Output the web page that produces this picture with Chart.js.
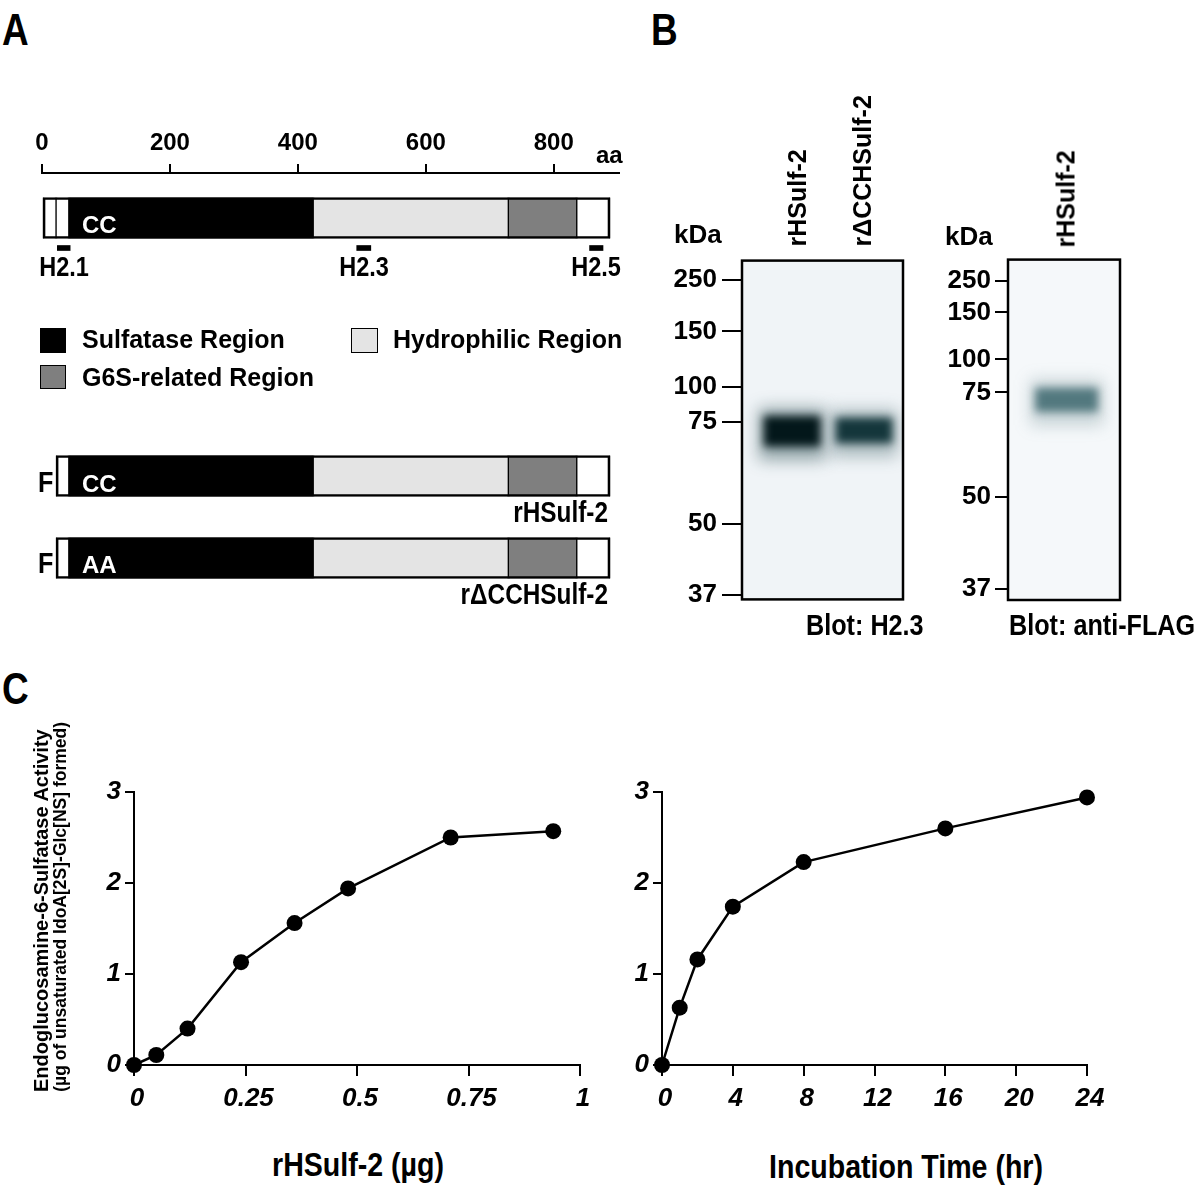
<!DOCTYPE html>
<html>
<head>
<meta charset="utf-8">
<title>HSulf-2 domains, immunoblots and activity</title>
<script src="https://cdn.jsdelivr.net/npm/chart.js@4.4.1/dist/chart.umd.min.js"></script>
<style>
  body { margin: 0; background: #fff; }
  #fig { position: relative; width: 1200px; height: 1192px; overflow: hidden; font-family: 'Liberation Sans', Arial, sans-serif; }
  #fig canvas { position: absolute; }
  .t { position: absolute; white-space: nowrap; line-height: 1; font-weight: bold; color: #000; }
  .sw { position: absolute; box-sizing: border-box; border: 1px solid #000; }
</style>
</head>
<body>
<div id="fig">
  <canvas id="domainChart" width="640" height="190" style="left:0;top:110px"></canvas>
  <canvas id="constructChart" width="640" height="180" style="left:0;top:440px"></canvas>
  <canvas id="blotH23" width="290" height="380" style="left:640px;top:240px"></canvas>
  <canvas id="blotFlag" width="210" height="380" style="left:930px;top:240px"></canvas>
  <canvas id="doseChart" width="580" height="380" style="left:40px;top:760px"></canvas>
  <canvas id="timeChart" width="540" height="380" style="left:600px;top:760px"></canvas>
</div>
<script>
// A: HSulf-2 domain map, amino acid positions
const aaTicks = [0, 200, 400, 600, 800];
const domainStart = [0, 22, 42, 424, 729, 836];
const domainEnd = [22, 42, 424, 729, 836, 888];
const domainKind = ['end', 'end', 'sulfatase', 'hydrophilic', 'g6s', 'end'];
const epitopeNames = ['H2.1', 'H2.3', 'H2.5'];
const epitopeStart = [24, 492, 856];
const epitopeEnd = [44, 514, 877];
const constructNames = ['rHSulf-2', 'r\u0394CCHSulf-2'];
const constructMotif = ['CC', 'AA'];
const constructStart = [22, 42, 424, 729, 836];
const constructEnd = [42, 424, 729, 836, 888];
const constructKind = ['end', 'sulfatase', 'hydrophilic', 'g6s', 'end'];

// B: immunoblots, relative migration (0 = top of blot, 1 = bottom)
const markerKDa = [250, 150, 100, 75, 50, 37];
const blot1Lanes = ['rHSulf-2', 'r\u0394CCHSulf-2'];
const blot1MarkerRf = [0.058, 0.209, 0.374, 0.475, 0.777, 0.986];
const blot1BandRf = [[0.460, 0.548], [0.465, 0.538]];
const blot2Lanes = ['rHSulf-2'];
const blot2MarkerRf = [0.062, 0.155, 0.293, 0.390, 0.698, 0.968];
const blot2BandRf = [[0.378, 0.446]];

// C: endoglucosamine-6-sulfatase activity
const activityTicks = [0, 1, 2, 3];
const doseTicks = [0, 0.25, 0.5, 0.75, 1];
const doseUg = [0, 0.05, 0.12, 0.24, 0.36, 0.48, 0.71, 0.94];
const doseActivity = [0, 0.11, 0.40, 1.13, 1.56, 1.94, 2.50, 2.57];
const timeTicks = [0, 4, 8, 12, 16, 20, 24];
const timeHr = [0, 1, 2, 4, 8, 16, 24];
const timeActivity = [0, 0.63, 1.16, 1.74, 2.23, 2.60, 2.94];

Chart.defaults.font.family = "'Liberation Sans', Arial, sans-serif";
Chart.defaults.color = '#000';
Chart.defaults.animation = false;
Chart.defaults.responsive = false;
Chart.defaults.plugins.legend.display = false;
Chart.defaults.plugins.tooltip.enabled = false;

const kindColor = { end: '#ffffff', sulfatase: '#000000', hydrophilic: '#e4e4e4', g6s: '#7f7f7f' };
const NARROW = 0.84;
const fig = document.getElementById('fig');

function segments(starts, ends, kinds, row) {
  return starts.map((s, i) => ({ x: [s, ends[i]], y: row, kind: kinds[i] }));
}

const segmentStyle = {
  backgroundColor: c => (c.raw ? kindColor[c.raw.kind] : '#000'),
  borderColor: '#000',
  borderWidth: { left: 1, right: 1, top: 0, bottom: 0 },
  borderSkipped: false,
  barThickness: 41,
  stack: 'row'
};
const outlineStyle = {
  backgroundColor: 'rgba(0,0,0,0)',
  borderColor: '#000',
  borderWidth: 2,
  borderSkipped: false,
  barThickness: 41,
  stack: 'row'
};

const domainChart = new Chart(document.getElementById('domainChart'), {
  type: 'bar',
  data: {
    datasets: [
      { ...outlineStyle, data: [{ x: [domainStart[0], domainEnd[domainEnd.length - 1]], y: 0 }] },
      { ...segmentStyle, data: segments(domainStart, domainEnd, domainKind, 0) },
      { data: epitopeStart.map((s, i) => ({ x: [s, epitopeEnd[i]], y: 1 })), backgroundColor: '#000', barThickness: 5, stack: 'row' }
    ]
  },
  options: {
    indexAxis: 'y',
    layout: { padding: { left: 42, right: 21, top: 0, bottom: 0 } },
    scales: {
      x: {
        type: 'linear', position: 'top', min: 0, max: 902, stacked: false,
        afterBuildTicks: a => { a.ticks = aaTicks.map(v => ({ value: v })); },
        afterFit: a => { a.height = 63; },
        border: { color: '#000', width: 2 },
        grid: { drawOnChartArea: false, color: '#000', lineWidth: 2, tickLength: 9 },
        ticks: { font: { size: 24, weight: 'bold' }, padding: 6, maxRotation: 0, autoSkip: false }
      },
      y: { type: 'linear', display: false, reverse: true, min: -1.5, max: 2.733, offset: false }
    }
  }
});

const constructChart = new Chart(document.getElementById('constructChart'), {
  type: 'bar',
  data: {
    datasets: [
      { ...outlineStyle, data: constructNames.map((_, r) => ({ x: [constructStart[0], constructEnd[constructEnd.length - 1]], y: r })) },
      { ...segmentStyle, data: constructNames.flatMap((_, r) => segments(constructStart, constructEnd, constructKind, r)) }
    ]
  },
  options: {
    indexAxis: 'y',
    layout: { padding: { left: 42, right: 21, top: 0, bottom: 0 } },
    scales: {
      x: { type: 'linear', display: false, min: 0, max: 902, stacked: false },
      y: { type: 'linear', display: false, reverse: true, min: -0.439, max: 1.756, offset: false }
    }
  }
});

// blur the bands so they look like chemiluminescence
const bandBlur = {
  id: 'bandBlur',
  beforeDatasetDraw(chart, args) {
    const r = chart.data.datasets[args.index].blur;
    if (r) { chart.ctx.save(); chart.ctx.filter = 'blur(' + r + 'px)'; }
  },
  afterDatasetDraw(chart, args) {
    if (chart.data.datasets[args.index].blur) chart.ctx.restore();
  }
};

const blotBox = {
  id: 'blotBox',
  beforeDatasetsDraw(chart, args, opts) {
    const { ctx, chartArea: a } = chart;
    ctx.save();
    ctx.fillStyle = opts.fill;
    ctx.fillRect(a.left, a.top, a.width, a.height);
    ctx.restore();
  },
  afterDatasetsDraw(chart) {
    const { ctx, chartArea: a } = chart;
    ctx.save();
    ctx.strokeStyle = '#000';
    ctx.lineWidth = 2.5;
    ctx.strokeRect(a.left, a.top, a.width, a.height);
    ctx.restore();
  }
};

function blotChart(id, markerRf, bandRf, o) {
  return new Chart(document.getElementById(id), {
    type: 'bar',
    data: {
      datasets: [
        { data: bandRf.map((b, i) => ({ x: i + 1, y: b })), backgroundColor: o.core, barThickness: o.width, blur: 4, stack: 'lane' },
        { data: bandRf.map((b, i) => ({ x: i + 1, y: [b[0] - 0.024, b[1] + 0.04] })), backgroundColor: o.halo, barThickness: o.width + 10, blur: 8, stack: 'lane' }
      ]
    },
    options: {
      layout: { padding: o.pad },
      scales: {
        x: { type: 'linear', display: false, min: o.xMin, max: o.xMax, offset: false },
        y: {
          type: 'linear', reverse: true, min: 0, max: 1, stacked: false,
          afterBuildTicks: a => { a.ticks = markerRf.map(v => ({ value: v })); },
          afterFit: a => { a.width = o.axisWidth; },
          border: { display: false },
          grid: { drawOnChartArea: false, color: '#000', lineWidth: 2, tickLength: o.tick },
          ticks: { callback: (v, i) => markerKDa[i], autoSkip: false, padding: o.gap, font: { size: 26, weight: 'bold' } }
        }
      },
      plugins: { blotBox: { fill: o.fill } }
    },
    plugins: [bandBlur, blotBox]
  });
}

blotChart('blotH23', blot1MarkerRf, blot1BandRf, {
  pad: { left: 0, top: 18, right: 27, bottom: 17 }, axisWidth: 102, tick: 20, gap: 5,
  xMin: 0.305, xMax: 2.54, width: 56, fill: '#f0f4f7',
  core: ['#03171a', '#14363b'], halo: ['rgba(10,50,56,0.4)', 'rgba(25,66,72,0.32)']
});
blotChart('blotFlag', blot2MarkerRf, blot2BandRf, {
  pad: { left: 0, top: 19, right: 20, bottom: 20 }, axisWidth: 78, tick: 13, gap: 4,
  xMin: 0.45, xMax: 1.5, width: 62, fill: '#f5f8fa',
  core: ['#52787e'], halo: ['rgba(80,115,122,0.28)']
});

const tickFont = { size: 26, weight: 'bold', style: 'italic' };

function activityChart(id, xs, ys, xTicks, o) {
  return new Chart(document.getElementById(id), {
    type: 'line',
    data: {
      datasets: [{
        data: xs.map((x, i) => ({ x, y: ys[i] })),
        borderColor: '#000', borderWidth: 2.5,
        pointRadius: 8, pointBackgroundColor: '#000', pointBorderWidth: 0,
        tension: 0, clip: false
      }]
    },
    options: {
      layout: { padding: { top: 32, right: o.padRight, bottom: 0, left: 0 } },
      scales: {
        x: {
          type: 'linear', min: xTicks[0], max: xTicks[xTicks.length - 1],
          afterBuildTicks: a => { a.ticks = xTicks.map(v => ({ value: v })); },
          afterFit: a => { a.height = 75; },
          border: { color: '#000', width: 2 },
          grid: { drawOnChartArea: false, color: '#000', lineWidth: 2, tickLength: 11 },
          ticks: { callback: v => String(v), autoSkip: false, maxRotation: 0, padding: 7, labelOffset: 3, font: tickFont }
        },
        y: {
          type: 'linear', min: 0, max: 3,
          afterBuildTicks: a => { a.ticks = activityTicks.map(v => ({ value: v })); },
          afterFit: a => { a.width = o.axisWidth; },
          border: { color: '#000', width: 2 },
          grid: { drawOnChartArea: false, color: '#000', lineWidth: 2, tickLength: 9 },
          ticks: { callback: v => String(v), autoSkip: false, padding: 4, font: tickFont }
        }
      }
    }
  });
}

activityChart('doseChart', doseUg, doseActivity, doseTicks, { axisWidth: 94, padRight: 40 });
activityChart('timeChart', timeHr, timeActivity, timeTicks, { axisWidth: 62, padRight: 53 });

// ---- text ----
function makeText(txt, o) {
  const d = document.createElement('div');
  d.className = 't';
  d.textContent = txt;
  d.style.fontSize = o.size + 'px';
  if (o.color) d.style.color = o.color;
  fig.appendChild(d);
  return d;
}

function addText(txt, x, base, o) {
  const d = makeText(txt, o);
  const align = o.align || 'left';
  const shift = align === 'center' ? '-50%' : align === 'right' ? '-100%' : '0';
  d.style.left = x + 'px';
  d.style.top = (base - 0.8465 * o.size) + 'px';
  d.style.transformOrigin = align + ' center';
  d.style.transform = 'translateX(' + shift + ') scaleX(' + (o.narrow ? NARROW : 1) + ')';
}

// rotated text reading bottom to top, starting at (x, startY)
function addUpText(txt, x, startY, o) {
  const d = makeText(txt, o);
  d.style.left = x + 'px';
  d.style.top = (startY - o.size / 2) + 'px';
  d.style.transformOrigin = '0 50%';
  d.style.transform = 'rotate(-90deg) scaleX(' + (o.narrow ? NARROW : 1) + ')';
}

function addSwatch(x, y, w, h, color) {
  const d = document.createElement('div');
  d.className = 'sw';
  Object.assign(d.style, { left: x + 'px', top: y + 'px', width: w + 'px', height: h + 'px', background: color });
  fig.appendChild(d);
}

addText('A', 2, 45, { size: 44, narrow: true });
addText('B', 651, 45, { size: 44, narrow: true });
addText('C', 2, 704, { size: 44, narrow: true });

// panel A
addText('aa', 596, 163, { size: 24 });
const xA = domainChart.scales.x;
epitopeNames.forEach((n, i) => {
  addText(n, xA.getPixelForValue((epitopeStart[i] + epitopeEnd[i]) / 2), 277, { size: 28, narrow: true, align: 'center' });
});
addText('CC', 82, 233, { size: 24, color: '#fff' });

addSwatch(40, 328, 26, 25, kindColor.sulfatase);
addText('Sulfatase Region', 82, 348, { size: 25 });
addSwatch(351, 328, 27, 25, kindColor.hydrophilic);
addText('Hydrophilic Region', 393, 348, { size: 25 });
addSwatch(40, 365, 26, 24, kindColor.g6s);
addText('G6S-related Region', 82, 386, { size: 25 });

const constructBase = [492, 573];
const nameBase = [523, 605];
constructNames.forEach((n, r) => {
  addText('F', 38, constructBase[r], { size: 30, narrow: true });
  addText(constructMotif[r], 82, constructBase[r], { size: 24, color: '#fff' });
  addText(n, 608, nameBase[r], { size: 29, narrow: true, align: 'right' });
});

// panel B
addText('kDa', 674, 243, { size: 26 });
addText('kDa', 945, 245, { size: 26 });
addUpText(blot1Lanes[0], 797, 246, { size: 25 });
addUpText(blot1Lanes[1], 862, 246, { size: 25 });
addUpText(blot2Lanes[0], 1066, 247, { size: 25 });
addText('Blot: H2.3', 806, 635, { size: 30, narrow: true });
addText('Blot: anti-FLAG', 1009, 635, { size: 30, narrow: true });

// panel C
addUpText('Endoglucosamine-6-Sulfatase Activity', 41, 1092, { size: 20 });
addUpText('(\u00b5g of unsaturated IdoA[2S]-Glc[NS] formed)', 61, 1092, { size: 17.5 });
addText('rHSulf-2 (\u00b5g)', 358, 1176, { size: 34, narrow: true, align: 'center' });
addText('Incubation Time (hr)', 906, 1178, { size: 34, narrow: true, align: 'center' });
</script>
</body>
</html>
